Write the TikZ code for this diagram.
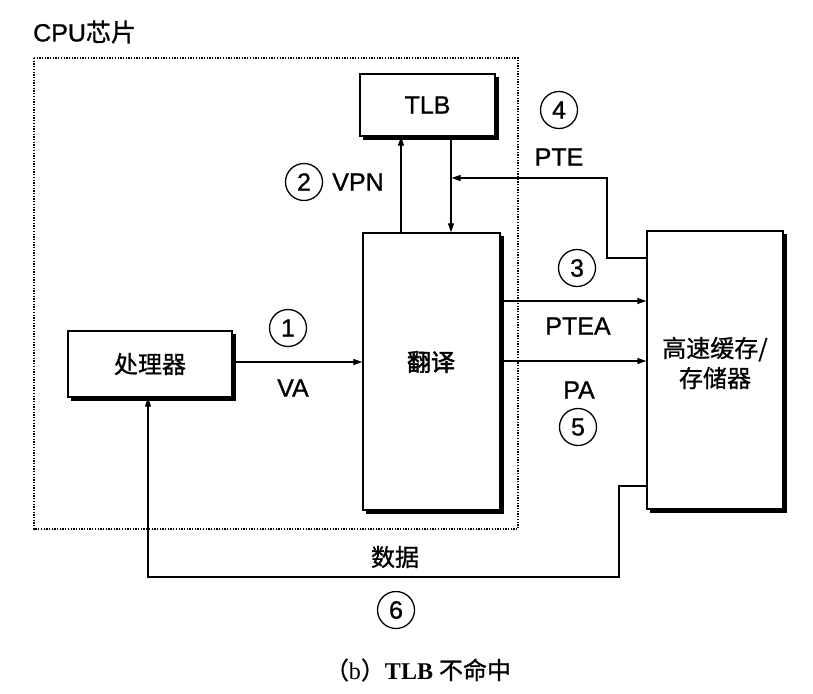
\documentclass[tikz,border=0pt]{standalone}
\usepackage{fontspec}
\setmainfont{Liberation Sans}[FakeBold=0.9]
\newfontfamily\cjk{Noto Sans CJK SC}[FakeBold=0.9]
\newfontfamily\cjkh{Noto Sans CJK SC}[FakeBold=2]
\newfontfamily\capserif{Liberation Serif}
\usetikzlibrary{arrows.meta}
\tikzset{
  box/.style={draw, line width=1.4pt, inner sep=0pt},
  lab/.style={font=\fontsize{25}{28}\selectfont, inner sep=0pt},
  clab/.style={font=\cjk\fontsize{24}{30}\selectfont, inner sep=0pt, align=center},
  num/.style={circle, draw, line width=1.3pt, minimum size=37pt, inner sep=0pt, font=\fontsize{25}{25}\selectfont},
  arr/.style={-{Triangle[length=9pt,width=6pt]}, line width=1.3pt},
  chip/.style={line width=2pt, dash pattern=on 1.3pt off 1.4pt},
  shade/.style={line width=3.2pt}
}
\newcommand\boxshadow[1]{%
  \draw[shade] ([xshift=1.2pt,yshift=-4pt]#1.north east) -- ([xshift=1.2pt,yshift=-1.2pt]#1.south east) -- ([xshift=4pt,yshift=-1.2pt]#1.south west);}
\begin{document}
\begin{tikzpicture}[x=1pt,y=-1pt]
\useasboundingbox (0,0) rectangle (813,693);
% chip outline
\node[lab, anchor=west] (cputxt) at (33,32) {CPU{\cjk 芯片}};
\draw[chip] (34,58) rectangle (518,529);
% boxes
\node[box, minimum width=164pt, minimum height=66pt] (proc) at (150,364) {};
\node[box, minimum width=135pt, minimum height=62pt] (tlb) at (427.5,105) {};
\node[box, minimum width=137pt, minimum height=277pt] (trans) at (431.5,371.5) {};
\node[box, minimum width=136pt, minimum height=278pt] (cache) at (715,370) {};
\boxshadow{proc}
\boxshadow{tlb}
\boxshadow{trans}
\boxshadow{cache}
% box texts
\node[clab] (proctxt) at (150,364) {处理器};
\node[lab] (tlbtxt) at (427.5,105) {TLB};
\node[clab, font=\cjkh\fontsize{24}{30}\selectfont] (transtxt) at (431,362) {翻译};
\node[clab] (cachetxt) at (715,363) {高速缓存/\\存储器};
% connectors
\coordinate (vx) at (401,0);
\coordinate (dx) at (451,0);
\coordinate (yv) at (0,362);
\coordinate (ya) at (0,301);
\coordinate (yp) at (0,361);
\coordinate (pteT) at (607,178);
\coordinate (pteB) at (607,258);
\coordinate (d1) at (619,486);
\coordinate (d2) at (619,577);
\coordinate (d3) at (148,577);
\draw[arr] (yv -| proc.east) -- (yv -| trans.west);
\draw[arr] (vx |- trans.north) -- (vx |- tlb.south);
\draw[arr] (dx |- tlb.south) -- (dx |- trans.north);
\draw[arr] (pteB -| cache.west) -- (pteB) -- (pteT) -- ([xshift=0.6pt]pteT -| dx);
\draw[arr] (ya -| trans.east) -- (ya -| cache.west);
\draw[arr] (yp -| trans.east) -- (yp -| cache.west);
\draw[arr] (d1 -| cache.west) -- (d1) -- (d2) -- (d3) -- (d3 |- proc.south);
% labels
\node[num] (n1) at (288,328) {1};
\node[lab] (va) at (293,388) {VA};
\node[num] (n2) at (304,182) {2};
\node[lab] (vpn) at (358,182) {VPN};
\node[num] (n3) at (577,268) {3};
\node[lab] (ptea) at (578,326) {PTEA};
\node[num] (n4) at (559,110) {4};
\node[lab] (pte) at (559,157) {PTE};
\node[lab] (pa) at (579,390) {PA};
\node[num] (n5) at (578,427) {5};
\node[clab] (data) at (395,557) {数据};
\node[num] (n6) at (396,610) {6};
\node[inner sep=0pt, font=\capserif\fontsize{24}{28}\selectfont] (cap) at (418,670) {{\cjk （}b{\cjk ）}\textbf{TLB} {\cjk 不命中}};
\end{tikzpicture}
\end{document}
